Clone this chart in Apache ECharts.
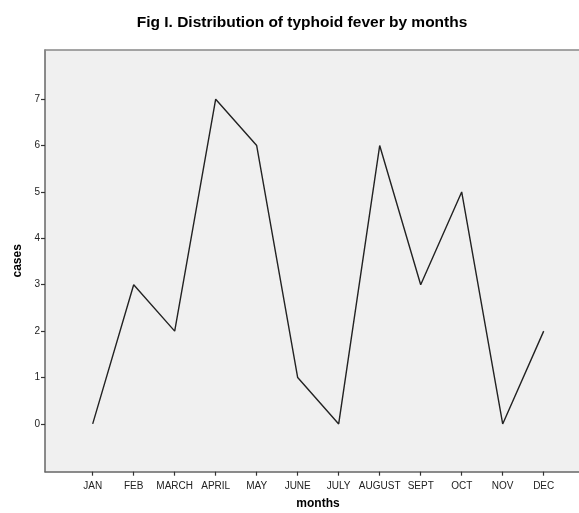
<!DOCTYPE html>
<html>
<head>
<meta charset="utf-8">
<script src="https://cdn.jsdelivr.net/npm/echarts@6/dist/echarts.min.js"></script>
<style>
html,body{margin:0;padding:0;background:#fff;}
#c{width:579px;height:513px;}
</style>
</head>
<body>
<div id="c"></div>
<script>
var months = ['JAN','FEB','MARCH','APRIL','MAY','JUNE','JULY','AUGUST','SEPT','OCT','NOV','DEC'];
var cases = [0, 3, 2, 7, 6, 1, 0, 6, 3, 5, 0, 2];
var yTicks = [0, 1, 2, 3, 4, 5, 6, 7];

var xIdx = months.map(function (m, i) { return i; });
var seriesData = cases.map(function (v, i) { return [i, v]; });

var chart = echarts.init(document.getElementById('c'), null, {renderer: 'canvas'});
chart.setOption({
  animation: false,
  backgroundColor: '#ffffff',
  title: {
    text: 'Fig I. Distribution of typhoid fever by months',
    left: 297, textAlign: 'center', top: 10,
    textStyle: {fontFamily: 'Liberation Sans, Arial', fontSize: 15.5, fontWeight: 'bold', color: '#000'}
  },
  grid: {
    left: 45, top: 50, width: 546, height: 421.7,
    outerBoundsMode: 'none', containLabel: false,
    show: true, backgroundColor: '#f0f0f0', borderWidth: 0
  },
  xAxis: [{
    type: 'value', min: -1.163, max: 12.154,
    name: 'months', nameLocation: 'middle', nameGap: 15,
    nameTextStyle: {fontFamily: 'Liberation Sans, Arial', fontSize: 12, fontWeight: 'bold', color: '#000', verticalAlign: 'middle', lineHeight: 14},
    axisLine: {show: true, onZero: false, lineStyle: {color: '#666', width: 1.5}},
    splitLine: {show: false},
    axisTick: {show: true, length: 4, customValues: xIdx, lineStyle: {color: '#333', width: 1.2}},
    axisLabel: {
      show: true, customValues: xIdx, margin: 10,
      fontFamily: 'Liberation Sans, Arial', fontSize: 10, color: '#222',
      formatter: function (v) { return months[Math.round(v)] || ''; }
    }
  }, {
    type: 'value', position: 'top', min: -1.163, max: 12.154,
    axisLine: {show: true, onZero: false, lineStyle: {color: '#888', width: 1.5}},
    axisTick: {show: false}, axisLabel: {show: false}, splitLine: {show: false}
  }],
  yAxis: {
    type: 'value', min: -1.03, max: 8.06,
    name: 'cases', nameLocation: 'middle', nameGap: 12, nameRotate: 90,
    nameTextStyle: {fontFamily: 'Liberation Sans, Arial', fontSize: 12, fontWeight: 'bold', color: '#000'},
    axisLine: {show: true, onZero: false, lineStyle: {color: '#666', width: 1.5}},
    splitLine: {show: false},
    axisTick: {show: true, length: 4, customValues: yTicks, lineStyle: {color: '#333', width: 1.2}},
    axisLabel: {
      show: true, customValues: yTicks, margin: 5,
      fontFamily: 'Liberation Sans, Arial', fontSize: 10, color: '#222'
    }
  },
  series: [{
    type: 'line',
    data: seriesData,
    showSymbol: false,
    symbol: 'none',
    lineStyle: {color: '#222', width: 1.4},
    silent: true
  }]
});
</script>
</body>
</html>
